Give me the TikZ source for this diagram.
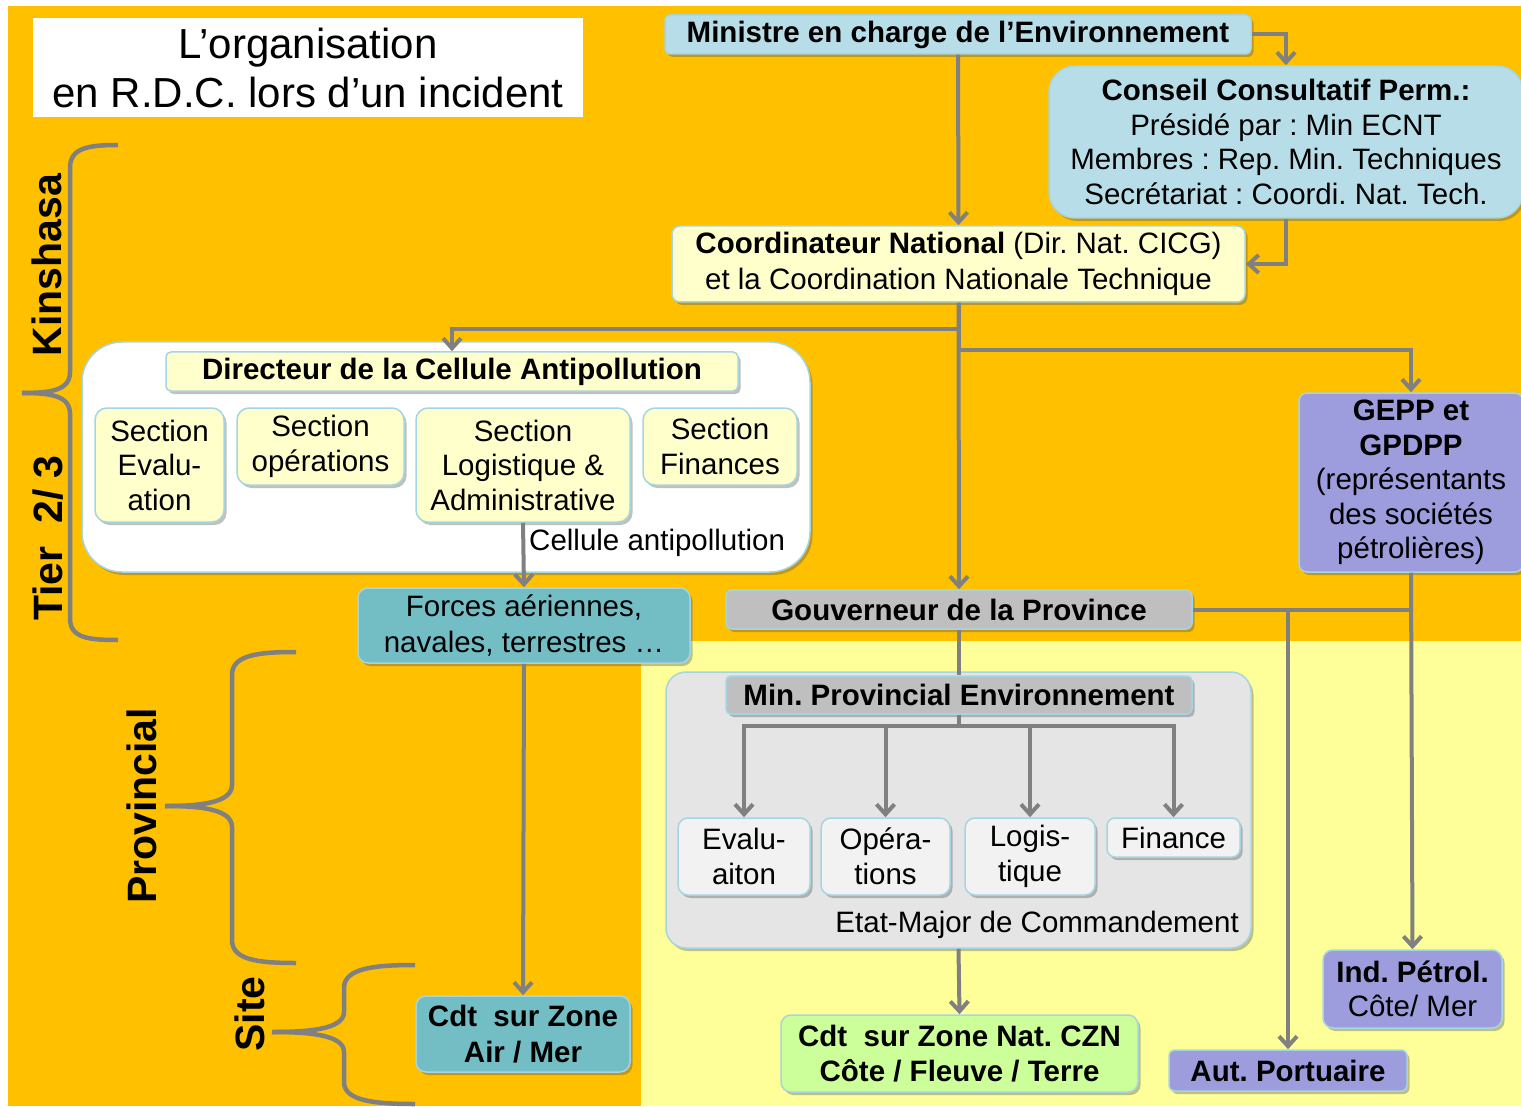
\documentclass[tikz,border=0pt]{standalone}
\usepackage{fontspec}
\setmainfont{Liberation Sans}
\usetikzlibrary{arrows.meta,shadows}

\definecolor{bgorange}{HTML}{FFC000}
\definecolor{bgpale}{HTML}{FFFF99}
\definecolor{skyfill}{RGB}{183,222,232}
\definecolor{creamfill}{HTML}{FFFFCC}
\definecolor{tealfill}{RGB}{115,190,197}
\definecolor{greyfill}{HTML}{BFBFBF}
\definecolor{panelgrey}{RGB}{229,229,229}
\definecolor{lightfill}{HTML}{F2F2F2}
\definecolor{greenfill}{HTML}{CCFF99}
\definecolor{violetfill}{RGB}{157,157,221}
\definecolor{boxline}{RGB}{165,213,225}
\definecolor{conncol}{HTML}{808080}

\newcommand{\boxfont}{\fontsize{29.5}{34.5}\selectfont}
\frenchspacing

\begin{document}
\begin{tikzpicture}[x=1pt,y=-1pt,
  orgbox/.style={draw=boxline, line width=1.5pt, inner sep=0pt, align=center,
    font=\boxfont,
    drop shadow={shadow xshift=2.5pt, shadow yshift=-3pt, opacity=0.35, fill=black!70}},
  conn/.style={draw=conncol, line width=4pt, -{Straight Barb[length=10pt,width=18pt]}},
  link/.style={draw=conncol, line width=4pt},
  brace/.style={draw=conncol, line width=4.5pt},
  tierlabel/.style={rotate=90, inner sep=0pt, font=\fontsize{41}{41}\selectfont\bfseries},
  plain/.style={inner sep=0pt, font=\boxfont}]

\useasboundingbox (0,0) rectangle (1521,1107);

% background zones
\fill[white] (0,0) rectangle (1521,1107);
\fill[bgorange] (8,6) rectangle (1521,1106);
\fill[bgpale] (641,641) rectangle (1521,1106);

% title
\node[fill=white, minimum width=550pt, minimum height=99pt, inner sep=0pt, align=center,
  font=\fontsize{42}{49}\selectfont] (title) at (308,67.5)
  {L’organisation\\en R.D.C. lors d’un incident};

% level braces
\draw[brace] (118,145) .. controls (88,145) and (70,148) .. (70,168) -- (70,372)
  .. controls (70,390) and (52,393) .. (22,393);
\draw[brace] (22,393) .. controls (52,393) and (70,396) .. (70,414) -- (70,618)
  .. controls (70,638) and (88,640) .. (118,640);
\draw[brace] (296,652) .. controls (258,652) and (232,655) .. (232,675) -- (232,785)
  .. controls (232,803) and (200,806) .. (165,806);
\draw[brace] (165,806) .. controls (200,806) and (232,809) .. (232,827) -- (232,940)
  .. controls (232,960) and (258,963) .. (296,963);
\draw[brace] (415,965) .. controls (375,965) and (344,968) .. (344,988) -- (344,1012)
  .. controls (344,1029) and (310,1032) .. (272,1032);
\draw[brace] (272,1032) .. controls (310,1032) and (344,1035) .. (344,1052) -- (344,1082)
  .. controls (344,1101) and (375,1104) .. (415,1104);

% level labels
\node[tierlabel] (lkin) at (47,265) {Kinshasa};
\node[tierlabel] (ltier) at (48,538) {Tier\ \ 2/ 3};
\node[tierlabel] (lprov) at (142,806) {Provincial};
\node[tierlabel] (lsite) at (250,1014) {Site};

% national level
\node[orgbox, fill=skyfill, rounded corners=5pt, minimum width=586pt, minimum height=39pt]
  (min) at (958,34.5) {\bfseries Ministre en charge de l’Environnement};
\node[orgbox, fill=skyfill, rounded corners=26pt, minimum width=474pt, minimum height=152pt]
  (ccp) at (1286,142) {\bfseries Conseil Consultatif Perm.:\\Présidé par : Min ECNT\\
  Membres : Rep. Min. Techniques\\Secrétariat : Coordi. Nat. Tech.};
\node[orgbox, fill=creamfill, rounded corners=8pt, minimum width=573pt, minimum height=76pt,
  font=\fontsize{29.5}{36}\selectfont]
  (coord) at (958.5,264) {{\bfseries Coordinateur National} (Dir. Nat. CICG)\\
  et la Coordination Nationale Technique};

% cellule antipollution
\node[orgbox, fill=white, rounded corners=40pt, minimum width=728pt, minimum height=230pt]
  (cell) at (446,457) {};
\node[orgbox, fill=creamfill, rounded corners=5pt, minimum width=572pt, minimum height=39pt]
  (dir) at (452,371.5) {\bfseries Directeur de la Cellule Antipollution};
\node[orgbox, fill=creamfill, rounded corners=12pt, minimum width=129pt, minimum height=114pt]
  (sev) at (159.5,465) {Section\\Evalu-\\ation};
\node[orgbox, fill=creamfill, rounded corners=12pt, minimum width=167pt, minimum height=77pt]
  (sop) at (320.5,446.5) {Section\\opérations};
\node[orgbox, fill=creamfill, rounded corners=12pt, minimum width=214pt, minimum height=114pt]
  (slog) at (523,465) {Section\\Logistique \&\\Administrative};
\node[orgbox, fill=creamfill, rounded corners=12pt, minimum width=154pt, minimum height=77pt]
  (sfin) at (720,446.5) {Section\\Finances};
\node[plain, anchor=west] (celltxt) at (529,543) {Cellule antipollution};

% armed forces branch
\node[orgbox, fill=tealfill, rounded corners=10pt, minimum width=332pt, minimum height=75pt,
  font=\fontsize{29.5}{36}\selectfont]
  (forces) at (524,625.5) {Forces aériennes,\\navales, terrestres …};
\node[orgbox, fill=tealfill, rounded corners=10pt, minimum width=214pt, minimum height=76pt,
  font=\fontsize{29.5}{36}\selectfont]
  (cdtair) at (523,1034) {\bfseries Cdt~ sur Zone\\\bfseries Air / Mer};

% oil companies
\node[orgbox, fill=violetfill, rounded corners=8pt, minimum width=224pt, minimum height=179pt]
  (gepp) at (1411,482.5) {\bfseries GEPP et\\\bfseries GPDPP\\(représentants\\des sociétés\\pétrolières)};

% provincial level
\node[orgbox, fill=greyfill, rounded corners=6pt, minimum width=466pt, minimum height=39pt]
  (gouv) at (959,609.5) {\bfseries Gouverneur de la Province};
\node[orgbox, fill=panelgrey, rounded corners=20pt, minimum width=585pt, minimum height=276pt]
  (emc) at (958.5,810) {};
\node[orgbox, fill=greyfill, rounded corners=5pt, minimum width=466pt, minimum height=38pt]
  (mpe) at (959,695) {\bfseries Min. Provincial Environnement};
\node[orgbox, fill=lightfill, rounded corners=10pt, minimum width=132pt, minimum height=77pt]
  (ev) at (744,856.5) {Evalu-\\aiton};
\node[orgbox, fill=lightfill, rounded corners=10pt, minimum width=129pt, minimum height=77pt]
  (op) at (885.5,856.5) {Opéra-\\tions};
\node[orgbox, fill=lightfill, rounded corners=10pt, minimum width=130pt, minimum height=77pt]
  (lg) at (1030,856.5) {Logis-\\tique};
\node[orgbox, fill=lightfill, rounded corners=8pt, minimum width=133pt, minimum height=39pt]
  (fi) at (1173.5,837.5) {Finance};
\node[plain, anchor=east] (emctxt) at (1239,925) {Etat-Major de Commandement};

% site level
\node[orgbox, fill=greenfill, rounded corners=10pt, minimum width=357pt, minimum height=77pt]
  (czn) at (959.5,1053.5) {\bfseries Cdt~ sur Zone Nat. CZN\\\bfseries Côte / Fleuve / Terre};
\node[orgbox, fill=violetfill, rounded corners=6pt, minimum width=238pt, minimum height=41pt]
  (aut) at (1288,1070.5) {\bfseries Aut. Portuaire};
\node[orgbox, fill=violetfill, rounded corners=10pt, minimum width=179pt, minimum height=78pt]
  (ind) at (1412.5,989) {\bfseries Ind. Pétrol.\\Côte/ Mer};

% connectors
\draw[conn] (min.east) -| (ccp.north);
\draw[conn] (min.south) -- (coord.north);
\draw[conn] (ccp.south) |- (coord.east);
\draw[conn] (coord.south) -- (gouv.north);
\draw[conn] (coord.south) -- ++(0,26) -| (dir.north);
\draw[conn] (coord.south) -- ++(0,47) -| (gepp.north);
\draw[conn] (slog.south) -- (forces.north);
\draw[conn] (forces.south) -- (cdtair.north);
\draw[link] (gouv.south) -- (mpe.north);
\draw[link] (gouv.east) -- (gepp.south |- gouv.east);
\draw[conn] (gouv.east) -| (aut.north);
\draw[conn] (gepp.south) -- (ind.north);
\draw[conn] (mpe.south) -- ++(0,11) -| (ev.north);
\draw[conn] (mpe.south) -- ++(0,11) -| (op.north);
\draw[conn] (mpe.south) -- ++(0,11) -| (lg.north);
\draw[conn] (mpe.south) -- ++(0,11) -| (fi.north);
\draw[conn] (emc.south) -- (czn.north);

\end{tikzpicture}
\end{document}
